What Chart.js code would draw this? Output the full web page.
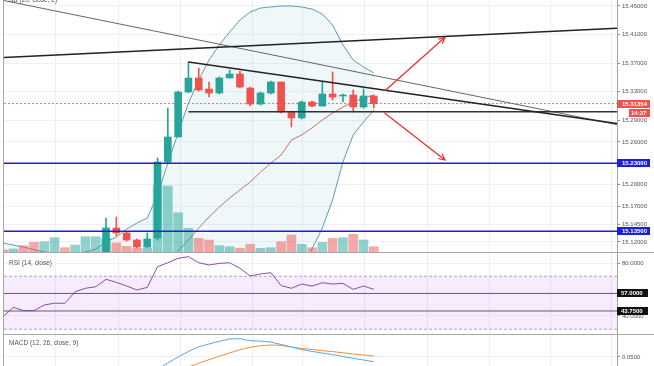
<!DOCTYPE html>
<html>
<head>
<meta charset="utf-8">
<script src="https://cdn.jsdelivr.net/npm/chart.js@4/dist/chart.umd.min.js"></script>
<style>
  html, body { margin: 0; padding: 0; background: #fff; }
  #wrap { position: relative; width: 654px; height: 366px; overflow: hidden; }
  canvas { position: absolute; left: 0; }
</style>
</head>
<body>
<div id="wrap">
  <canvas id="price" width="654" height="252" style="top:0"></canvas>
  <canvas id="rsi" width="654" height="82" style="top:252px"></canvas>
  <canvas id="macd" width="654" height="32" style="top:334px"></canvas>
</div>
<script>
// one entry per candle (bar index)
const bars = [0,1,2,3,4,5,6,7,8,9,10,11,12,13,14,15,16,17,18,19,20,21,22,23,24,25,26,27,28,29,30,31,32,33,34,35,36];

// candles left of index 10 sit below the visible price range
const opens = [null,null,null,null,null,null,null,null,null,null,
  15.1003,15.1395,15.1325,15.1227,15.1129,15.1255,15.2318,15.2668,15.3297,15.3493,
  15.3339,15.3283,15.3493,15.3549,15.3353,15.3129,15.3283,15.3437,15.3017,15.2934,
  15.3157,15.3101,15.3269,15.3241,15.3255,15.3087,15.3241];
const highs = [null,null,null,null,null,null,null,null,null,null,
  15.1535,15.1549,15.1339,15.1241,15.1325,15.2374,15.3073,15.3311,15.3717,15.3633,
  15.3437,15.3507,15.3605,15.3591,15.3367,15.3297,15.3451,15.3437,15.3031,15.3171,
  15.3171,15.3437,15.3577,15.3269,15.3325,15.3339,15.3255];
const lows = [null,null,null,null,null,null,null,null,null,null,
  15.0947,15.1283,15.1213,15.1115,15.1115,15.1227,15.2304,15.2668,15.3283,15.3311,
  15.3227,15.3269,15.3493,15.3353,15.3101,15.3115,15.3269,15.3003,15.2808,15.2920,
  15.3087,15.3101,15.3185,15.3157,15.3017,15.3073,15.3073];
const closes = [null,null,null,null,null,null,null,null,null,null,
  15.1395,15.1325,15.1227,15.1129,15.1241,15.2318,15.2668,15.3297,15.3493,15.3325,
  15.3283,15.3493,15.3549,15.3367,15.3129,15.3283,15.3437,15.3017,15.2934,15.3157,
  15.3101,15.3269,15.3227,15.3255,15.3087,15.3241,15.31354];

const volumes = [40,60,126,194,206,286,86,140,306,306,
  280,180,114,74,80,1340,1320,786,474,274,
  240,126,106,74,154,74,86,206,340,154,
  86,194,274,286,354,240,106];
const volumeUp = [0,1,0,0,1,1,0,1,1,1, 1,0,0,0,1,1,1,1,1,0, 0,1,1,0,0,1,1,0,0,1, 0,1,0,1,0,1,0];

// Bollinger Bands (20, close, 2)
const bbUpper = [15.1185,15.1157,15.1129,15.1094,15.1059,15.1031,15.1017,15.1031,15.1059,15.1101,
  15.1199,15.1269,15.1381,15.1465,15.1535,15.1857,15.2304,15.2724,15.3143,15.3465,
  15.3745,15.3955,15.4136,15.4304,15.4416,15.4472,15.4486,15.45,15.45,15.4486,
  15.4458,15.4388,15.4234,15.3955,15.3745,15.3647,15.3563];
const bbBasis = [15.09,15.09,15.09,15.09,15.09,15.09,15.09,15.09,15.09,15.09,
  15.09,15.09,15.09,15.09,15.09,15.09,15.094,15.1073,15.1227,15.1395,
  15.1549,15.1689,15.1815,15.1927,15.2038,15.2178,15.2304,15.2416,15.2626,15.2696,
  15.2794,15.2906,15.3003,15.3087,15.3157,15.3213,15.3255];
const bbLower = [15.075,15.077,15.078,15.08,15.082,15.083,15.084,15.083,15.082,15.08,
  15.078,15.075,15.071,15.068,15.065,15.05,15.03,15.0,14.98,14.97,
  14.965,14.965,14.97,14.975,14.98,15.0,15.02,15.04,15.06,15.081,
  15.1101,15.1395,15.1787,15.2318,15.2696,15.2878,15.3045];

const rsi = [39.5,46.5,44.0,44.0,48.3,49.6,49.6,58.3,60.9,62.1,
  67.7,65.4,62.6,59.6,61.6,77.2,80.2,83.5,84.8,80.2,
  78.5,79.7,80.2,76.0,70.2,71.7,72.7,62.9,60.9,64.1,
  62.6,65.1,64.1,64.6,60.1,62.6,60.1];

const macdLine = [null,null,null,null,null,null,null,null,null,null,
  null,null,null,null,null,0.0227,0.0367,0.05,0.0622,0.0729,
  0.0789,0.0849,0.09,0.0907,0.0862,0.0851,0.0833,0.0778,0.0722,0.0664,
  0.0624,0.0589,0.0553,0.0511,0.0471,0.0433,0.0396];
const signalLine = [null,null,null,null,null,null,null,null,null,null,
  null,null,null,null,null,null,null,0.0189,0.0278,0.0362,
  0.044,0.0518,0.0591,0.0662,0.0716,0.0751,0.0767,0.0758,0.0722,0.0689,
  0.0667,0.0642,0.062,0.0593,0.0567,0.0544,0.0522];

// visible window and axis ticks
const xMin = 0.093, xMax = 59.61;
const gridX = [5, 11.2, 17.2, 24.2, 29, 35, 41.2, 47.2, 53.1, 59];
const priceTicks = [15.45, 15.41, 15.37, 15.33, 15.29, 15.26, 15.23, 15.20, 15.17, 15.145, 15.12];
const rsiTicks = [80, 40];
const macdTicks = [0.05];

// drawings on the price pane: [barIndex, price]
const resistance = [[xMin, 15.3781], [xMax, 15.4188]];
const longTrend = [[xMin, 15.4576], [xMax, 15.284]];
const upperTrend = [[18, 15.3717], [xMax, 15.2855]];
const baseLine = [[18, 15.3022], [xMax, 15.3022]];
const levels = [15.23, 15.135];
const arrowUp = [[37.08, 15.3315], [42.91, 15.4062]];
const arrowDown = [[37.02, 15.3008], [42.91, 15.2346]];
const rsiBand = [70, 30];
const rsiLevels = [57, 43.75];

const lastPrice = closes[closes.length - 1];
const countdown = '14:37';

const FONT = "'Liberation Sans', Arial, sans-serif";
const GREEN = '#26a69a', RED = '#ef5350', BLUE = '#1e1ede';
Chart.defaults.font.family = FONT;

function pts(ys) {
  return bars.filter(i => ys[i] != null).map(i => ({x: i, y: ys[i]}));
}
function seg(pairs) {
  return pairs.map(p => ({x: p[0], y: p[1]}));
}
function flat(v) {
  return seg([[xMin, v], [xMax, v]]);
}
function lineDs(data, color, width, extra) {
  return Object.assign({type: 'line', data, borderColor: color, borderWidth: width,
    pointRadius: 0, fill: false, tension: 0, clip: 0}, extra || {});
}

function fixAxis(s) {
  s.width = 37;
  s.paddingTop = 0;
  s.paddingBottom = 0;
}
function rightAxis(min, max, ticks, digits) {
  return {
    position: 'right', min, max,
    afterBuildTicks: s => { s.ticks = ticks.map(v => ({value: v})); },
    afterFit: fixAxis,
    grid: {color: '#eff1f6', tickColor: '#8c8c8c', tickLength: 3},
    border: {color: '#a4a4a4'},
    ticks: {autoSkip: false, padding: 2, color: '#555', font: {size: 6},
      callback: v => Number(v).toFixed(digits)}
  };
}
const xAxis = {type: 'linear', display: false, min: xMin, max: xMax, offset: false};

function drawTag(ctx, t, yc) {
  ctx.fillStyle = t.bg;
  ctx.fillRect(t.x1, Math.round(yc) - 4, t.x2 - t.x1, 8);
  ctx.fillStyle = '#fff';
  ctx.font = 'bold 6px ' + FONT;
  ctx.textBaseline = 'middle';
  ctx.textAlign = 'left';
  ctx.fillText(t.text, t.tx, Math.round(yc) + 0.5);
}

function makeDecor(cfg) {
  return {
    id: 'decor',
    beforeDatasetsDraw(chart) {
      const {ctx, chartArea: a, scales: {x}} = chart;
      ctx.save();
      ctx.strokeStyle = '#eceff4';
      ctx.lineWidth = 1;
      gridX.forEach(v => {
        const px = Math.round(x.getPixelForValue(v)) + 0.5;
        ctx.beginPath();
        ctx.moveTo(px, a.top);
        ctx.lineTo(px, a.bottom);
        ctx.stroke();
      });
      ctx.restore();
    },
    afterDatasetsDraw(chart) {
      const ctx = chart.ctx;
      chart.data.datasets.forEach((ds, i) => {
        if (!ds.arrow) return;
        const p = chart.getDatasetMeta(i).data;
        const a = p[p.length - 2], b = p[p.length - 1];
        const ang = Math.atan2(b.y - a.y, b.x - a.x);
        ctx.save();
        ctx.strokeStyle = ds.borderColor;
        ctx.lineWidth = ds.borderWidth;
        ctx.beginPath();
        ctx.moveTo(b.x - 7 * Math.cos(ang - 0.45), b.y - 7 * Math.sin(ang - 0.45));
        ctx.lineTo(b.x, b.y);
        ctx.lineTo(b.x - 7 * Math.cos(ang + 0.45), b.y - 7 * Math.sin(ang + 0.45));
        ctx.stroke();
        ctx.restore();
      });
    },
    afterDraw(chart) {
      const {ctx, chartArea: a, scales: {y}} = chart;
      ctx.save();
      ctx.strokeStyle = '#a8a8a8';
      ctx.lineWidth = 1;
      ctx.beginPath();
      ctx.moveTo(a.left - 0.5, 0);
      ctx.lineTo(a.left - 0.5, chart.height);
      ctx.stroke();
      if (cfg.divider) {
        ctx.beginPath();
        ctx.moveTo(a.left, 0.5);
        ctx.lineTo(chart.width, 0.5);
        ctx.stroke();
      }
      ctx.fillStyle = '#555';
      ctx.font = '6.5px ' + FONT;
      ctx.textBaseline = 'middle';
      ctx.textAlign = 'left';
      ctx.fillText(cfg.title, 9, cfg.titleY);
      (cfg.tags || []).forEach(t => drawTag(ctx, t, y.getPixelForValue(t.value) + (t.dy || 0)));
      ctx.restore();
    }
  };
}

const baseOptions = {
  responsive: false,
  animation: false,
  events: [],
  layout: {padding: {left: 4, right: 0, top: 0, bottom: 0}},
  plugins: {legend: {display: false}, tooltip: {enabled: false}}
};

// ---- price pane ----
const candleBodies = bars.filter(i => opens[i] != null)
  .map(i => ({x: i, y: [opens[i], closes[i]], up: closes[i] >= opens[i]}));
const candleWicks = bars.filter(i => opens[i] != null)
  .map(i => ({x: i, y: [lows[i], highs[i]], up: closes[i] >= opens[i]}));
const volumeBars = bars.map(i => ({x: i, y: volumes[i], up: volumeUp[i] === 1}));

new Chart(document.getElementById('price'), {
  type: 'line',
  data: {
    datasets: [
      lineDs(pts(bbUpper), 'rgba(45,125,150,0.75)', 1, {fill: '+1', backgroundColor: 'rgba(40,140,175,0.07)', order: 60}),
      lineDs(pts(bbLower), 'rgba(45,125,150,0.75)', 1, {order: 59}),
      lineDs(pts(bbBasis), 'rgba(170,60,60,0.7)', 1, {order: 58}),
      {type: 'bar', yAxisID: 'yv', data: volumeBars, barThickness: 9, grouped: false, clip: 0, order: 50,
        backgroundColor: c => (c.raw && c.raw.up) ? 'rgba(38,166,154,0.5)' : 'rgba(239,83,80,0.5)'},
      {type: 'bar', data: candleWicks, barThickness: 1, grouped: false, clip: 0, order: 40,
        backgroundColor: c => (c.raw && c.raw.up) ? GREEN : RED},
      {type: 'bar', data: candleBodies, barThickness: 7, minBarLength: 1, grouped: false, clip: 0, order: 39,
        backgroundColor: c => (c.raw && c.raw.up) ? GREEN : RED},
      lineDs(flat(lastPrice), 'rgba(239,83,80,0.85)', 1, {borderDash: [2, 2], order: 30}),
      lineDs(flat(levels[0]), BLUE, 1.5, {order: 20}),
      lineDs(flat(levels[1]), BLUE, 1.5, {order: 20}),
      lineDs(seg(longTrend), '#666', 1, {order: 15}),
      lineDs(seg(resistance), '#222', 1.5, {order: 14}),
      lineDs(seg(upperTrend), '#222', 1.5, {order: 14}),
      lineDs(seg(baseLine), '#333', 1.5, {order: 14}),
      lineDs(seg(arrowUp), '#f02828', 1.2, {arrow: true, order: 5}),
      lineDs(seg(arrowDown), '#f02828', 1.2, {arrow: true, order: 5})
    ]
  },
  options: Object.assign({}, baseOptions, {
    scales: {
      x: xAxis,
      y: rightAxis(15.10594, 15.45839, priceTicks, 5),
      yv: {display: false, min: 0, max: 5040}
    }
  }),
  plugins: [makeDecor({
    title: 'BB (20, close, 2)', titleY: 0.5,
    tags: [
      {value: lastPrice, text: lastPrice.toFixed(5), bg: RED, x1: 617, x2: 650, tx: 622},
      {value: lastPrice, dy: 9, text: countdown, bg: RED, x1: 629, x2: 650, tx: 631},
      {value: levels[0], text: levels[0].toFixed(5), bg: BLUE, x1: 617, x2: 650, tx: 622},
      {value: levels[1], text: levels[1].toFixed(5), bg: BLUE, x1: 617, x2: 650, tx: 622}
    ]
  })]
});

// ---- RSI pane ----
new Chart(document.getElementById('rsi'), {
  type: 'line',
  data: {
    datasets: [
      lineDs(flat(rsiBand[0]), 'rgba(140,100,165,0.6)', 1, {borderDash: [3, 2], order: 10}),
      lineDs(flat(rsiBand[1]), 'rgba(140,100,165,0.6)', 1, {borderDash: [3, 2], fill: '-1',
        backgroundColor: 'rgba(156,39,240,0.09)', order: 9}),
      lineDs(flat(rsiLevels[0]), 'rgba(80,60,90,0.85)', 1, {order: 5}),
      lineDs(flat(rsiLevels[1]), 'rgba(80,60,90,0.85)', 1, {order: 5}),
      lineDs(pts(rsi), 'rgba(128,60,160,0.9)', 1, {order: 1})
    ]
  },
  options: Object.assign({}, baseOptions, {
    scales: {x: xAxis, y: rightAxis(26.37, 88.31, rsiTicks, 4)}
  }),
  plugins: [makeDecor({
    title: 'RSI (14, close)', titleY: 11, divider: true,
    tags: [
      {value: rsiLevels[0], text: rsiLevels[0].toFixed(4), bg: '#111', x1: 617, x2: 648, tx: 621},
      {value: rsiLevels[1], text: rsiLevels[1].toFixed(4), bg: '#111', x1: 617, x2: 648, tx: 621}
    ]
  })]
});

// ---- MACD pane ----
new Chart(document.getElementById('macd'), {
  type: 'line',
  data: {
    datasets: [
      lineDs(pts(signalLine), '#f08a3c', 1, {order: 2}),
      lineDs(pts(macdLine), '#57a7e4', 1, {order: 1})
    ]
  },
  options: Object.assign({}, baseOptions, {
    scales: {x: xAxis, y: rightAxis(0.03, 0.10111, macdTicks, 4)}
  }),
  plugins: [makeDecor({title: 'MACD (12, 26, close, 9)', titleY: 9, divider: true})]
});
</script>
</body>
</html>
